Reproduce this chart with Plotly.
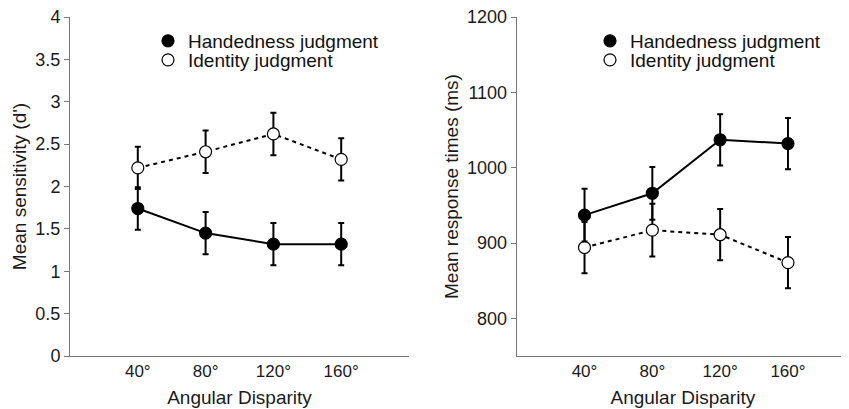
import plotly.graph_objects as go

# ---- data ----
angles = [40, 80, 120, 160]
angle_labels = ["40°", "80°", "120°", "160°"]

dprime_hand = [1.74, 1.45, 1.32, 1.32]
dprime_hand_err = [0.25, 0.25, 0.25, 0.25]
dprime_ident = [2.22, 2.41, 2.62, 2.32]
dprime_ident_err = [0.25, 0.25, 0.25, 0.25]

rt_hand = [937, 966, 1037, 1032]
rt_hand_err = [35, 35, 34, 34]
rt_ident = [894, 917, 911, 874]
rt_ident_err = [34, 35, 34, 34]

left_yticks = [0, 0.5, 1, 1.5, 2, 2.5, 3, 3.5, 4]
left_yticklabels = ["0", "0.5", "1", "1.5", "2", "2.5", "3", "3.5", "4"]
right_yticks = [800, 900, 1000, 1100, 1200]

series_names = ["Handedness judgment", "Identity judgment"]

FONT = "Liberation Sans, Arial, Helvetica, sans-serif"
# the page body has an 8px margin, so the figure is drawn 8px in from the window corner
OFF = 8
W, H = 849 - OFF, 409 - OFF

fig = go.Figure()


def add_series(x, y, err, filled, xa, ya):
    fig.add_trace(go.Scatter(
        x=x, y=y, xaxis=xa, yaxis=ya, mode="lines+markers", showlegend=False,
        line=dict(color="black", width=2, dash="solid" if filled else "4px,4px"),
        marker=dict(size=12, color="black" if filled else "white",
                    line=dict(color="black", width=1.2)),
        error_y=dict(type="data", array=err, visible=True, color="black",
                     thickness=2, width=3),
        cliponaxis=False,
    ))


add_series(angles, dprime_ident, dprime_ident_err, False, "x", "y")
add_series(angles, dprime_hand, dprime_hand_err, True, "x", "y")
add_series(angles, rt_ident, rt_ident_err, False, "x2", "y2")
add_series(angles, rt_hand, rt_hand_err, True, "x2", "y2")

# legend-only entries: one legend per row for exact spacing
legend_map = [("legend", "x", "y", 0), ("legend3", "x", "y", 1),
              ("legend2", "x2", "y2", 0), ("legend4", "x2", "y2", 1)]
for lg, xa, ya, idx in legend_map:
    filled = idx == 0
    fig.add_trace(go.Scatter(
        x=[None], y=[None], mode="markers", name=series_names[idx], legend=lg,
        marker=dict(size=12, color="black" if filled else "white",
                    line=dict(color="black", width=1.2)),
        xaxis=xa, yaxis=ya,
    ))


def px_x(v):
    return (v - OFF) / W


def px_y(v):
    return 1 - (v - OFF) / H


ydom = [px_y(356), px_y(17)]
axis_common = dict(showgrid=False, zeroline=False, showline=True,
                   linecolor="#777", linewidth=1, automargin=False,
                   ticklabeloverflow="allow")
xtick_font = dict(family=FONT, size=17, color="#1a1a1a")
ytick_font = dict(family=FONT, size=18, color="#1a1a1a")
title_font = dict(family=FONT, size=19, color="#1a1a1a")

leg_common = dict(xanchor="left", yanchor="middle", bgcolor="rgba(0,0,0,0)",
                  font=dict(family=FONT, size=19, color="#111"))

fig.update_layout(
    width=W, height=H,
    margin=dict(l=0, r=0, t=0, b=0),
    paper_bgcolor="white", plot_bgcolor="white",
    font=dict(family=FONT, color="#1a1a1a"),
    xaxis=dict(domain=[px_x(70), px_x(409)], range=[0, 200], tickvals=angles,
               ticktext=angle_labels, ticks="", anchor="y", tickfont=xtick_font,
               title=dict(text="Angular Disparity", font=title_font, standoff=10),
               **axis_common),
    yaxis=dict(domain=ydom, range=[0, 4], tickvals=left_yticks,
               ticktext=left_yticklabels, ticks="outside", ticklen=5,
               tickcolor="#777", anchor="x", tickfont=ytick_font,
               title=dict(text="Mean sensitivity (d')", font=title_font, standoff=3),
               **axis_common),
    xaxis2=dict(domain=[px_x(516.7), 1.0], range=[0, 196], tickvals=angles,
                ticktext=angle_labels, ticks="", anchor="y2", tickfont=xtick_font,
                title=dict(text="Angular Disparity", font=title_font, standoff=10),
                **axis_common),
    yaxis2=dict(domain=ydom, range=[750, 1200], tickvals=right_yticks,
                ticks="outside", ticklen=5, tickcolor="#777", anchor="x2",
                tickfont=ytick_font,
                title=dict(text="Mean response times (ms)", font=title_font, standoff=3),
                **axis_common),
    legend=dict(x=px_x(148), y=px_y(41), **leg_common),
    legend3=dict(x=px_x(148), y=px_y(60), **leg_common),
    legend2=dict(x=px_x(590), y=px_y(41), **leg_common),
    legend4=dict(x=px_x(590), y=px_y(60), **leg_common),
)

fig.write_html("out.html")
